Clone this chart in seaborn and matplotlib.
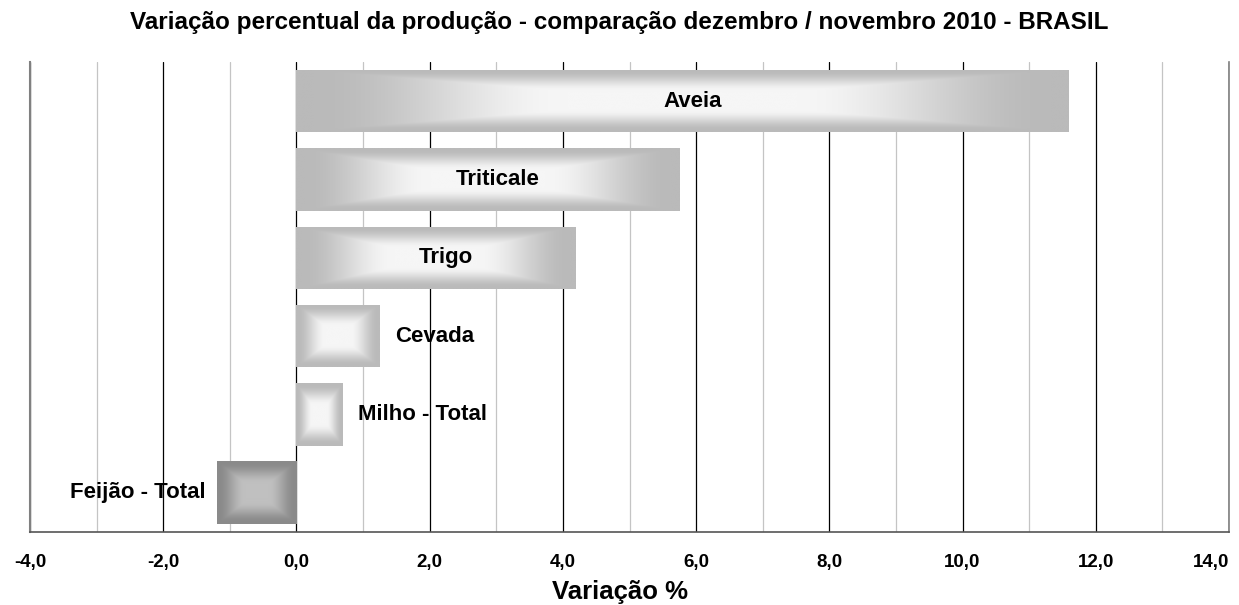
import numpy as np
import pandas as pd
import matplotlib
matplotlib.use("Agg")
import matplotlib.pyplot as plt
import matplotlib.colors as mcolors
import seaborn as sns

# Dados
culturas = ["Aveia", "Triticale", "Trigo", "Cevada", "Milho - Total", "Feijão - Total"]
variacao = [11.6, 5.75, 4.2, 1.25, 0.7, -1.2]
ticks_x = [-4, -2, 0, 2, 4, 6, 8, 10, 12, 14]
rotulos_x = ["-4,0", "-2,0", "0,0", "2,0", "4,0", "6,0", "8,0", "10,0", "12,0", "14,0"]
titulo = "Variação percentual da produção - comparação dezembro / novembro 2010 - BRASIL"

df = pd.DataFrame({"cultura": culturas, "variacao": variacao})

sns.set_style("white")
plt.rcParams["font.family"] = ["Liberation Sans", "DejaVu Sans"]
plt.rcParams["font.weight"] = "bold"
plt.rcParams["text.color"] = "black"
plt.rcParams["xtick.color"] = "black"

fig = plt.figure(figsize=(12.39, 6.05), dpi=100)
ax = fig.add_axes([30 / 1239, 1 - 532 / 605, 1199 / 1239, 470 / 605])
ax.set_axisbelow(True)

sns.barplot(data=df, x="variacao", y="cultura", orient="h", color="#bcbcbc",
            width=0.8, ax=ax, zorder=3)

ax.set_xlim(-4, 14)
ylim = ax.get_ylim()


def gradiente(borda, centro, nx=400, ny=120):
    u = np.linspace(-1, 1, nx)
    v = np.linspace(-1, 1, ny)
    U, V = np.meshgrid(u, v)
    t = np.maximum(np.abs(U), np.abs(V))
    s = np.clip((t - 0.3) / 0.65, 0, 1)
    s = s * s * (3 - 2 * s)
    b = np.array(mcolors.to_rgb(borda))
    c = np.array(mcolors.to_rgb(centro))
    return c[None, None, :] + (b - c)[None, None, :] * s[:, :, None]


# preenchimento em degradê retangular (do centro para as bordas)
for patch, val in zip(ax.patches, variacao):
    x0, y0 = patch.get_x(), patch.get_y()
    w, h = patch.get_width(), patch.get_height()
    if val < 0:
        img = gradiente("#8a8a8a", "#c0c0c0")
    else:
        img = gradiente("#bababa", "#f6f6f6")
    x1 = x0 + w
    im = ax.imshow(img, extent=[min(x0, x1), max(x0, x1), y0 + h, y0],
                   aspect="auto", zorder=3, interpolation="bilinear")
    im.set_clip_path(patch)
    patch.set_facecolor("none")
    patch.set_edgecolor("none")

ax.set_ylim(ylim)
ax.set_xlim(-4, 14)

# rótulos das categorias
for i, (nome, val) in enumerate(zip(culturas, variacao)):
    if val >= 4:
        ax.text(val / 2 + 0.15, i, nome, ha="center", va="center",
                fontsize=16, fontweight="bold", zorder=5)
    elif val >= 0:
        ax.text(val + 0.23, i, nome, ha="left", va="center",
                fontsize=16, fontweight="bold", zorder=5)
    else:
        ax.text(val - 0.17, i, nome, ha="right", va="center",
                fontsize=16, fontweight="bold", zorder=5)

ax.set_xticks(ticks_x)
ax.set_xticklabels(rotulos_x, fontsize=13.5, fontweight="bold")
ax.get_xticklabels()[-1].set_ha("right")
ax.set_xticks(np.arange(-3, 14, 2), minor=True)
ax.grid(which="major", axis="x", color="black", lw=0.9)
ax.grid(which="minor", axis="x", color="#c4c4c4", lw=0.9)
ax.grid(axis="y", visible=False)
ax.tick_params(axis="x", which="both", direction="out", length=5,
               width=1, color="#555555", pad=11)
ax.tick_params(axis="y", left=False, labelleft=False)
ax.set_ylabel("")
ax.set_xlabel("")

ax.spines["top"].set_visible(False)
ax.spines["left"].set_color("#808080")
ax.spines["left"].set_linewidth(1.5)
ax.spines["right"].set_color("#808080")
ax.spines["right"].set_linewidth(1.2)
ax.spines["bottom"].set_color("#555555")
ax.spines["bottom"].set_linewidth(1.2)

fig.text(0.5, 1 - 23 / 605, titulo, ha="center", va="center",
         fontsize=17.5, fontweight="bold")
fig.text(0.5, 1 - 592 / 605, "Variação %", ha="center", va="center",
         fontsize=18.5, fontweight="bold")

fig.savefig("out.png", dpi=100)
